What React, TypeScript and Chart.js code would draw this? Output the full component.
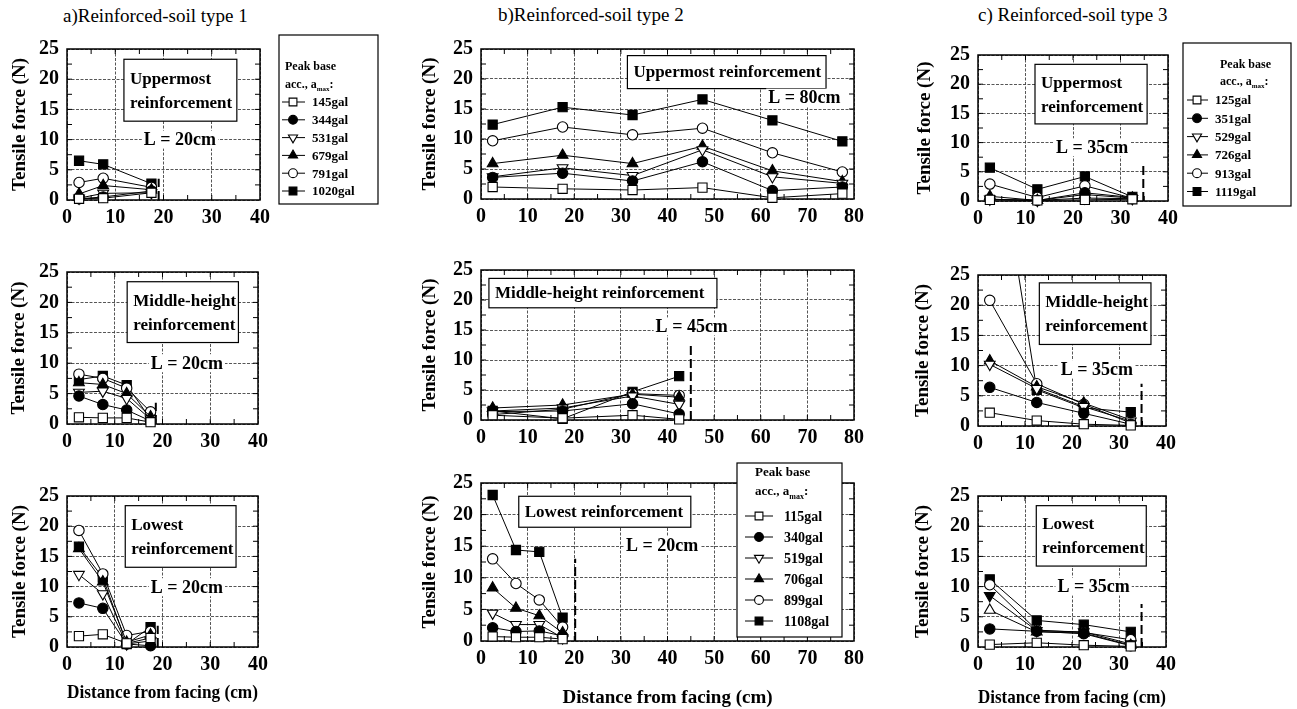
import React, { useEffect, useRef } from "react";
import { Chart, registerables } from "chart.js";

Chart.register(...registerables);

const FONT = '"Liberation Serif", "Times New Roman", Times, serif';

// ---------- measuring positions: distance from facing (cm) ----------
const xA3 = [2.5, 7.5, 17.5];
const xA4 = [2.5, 7.5, 12.5, 17.5];
const xBTop = [2.5, 17.5, 32.5, 47.5, 62.5, 77.5];
const xBMid = [2.5, 17.5, 32.5, 42.5];
const xBLow = [2.5, 7.5, 12.5, 17.5];
const xC = [2.5, 12.5, 22.5, 32.5];

// ---------- legend labels (peak base acceleration) ----------
const accA = ["145gal", "344gal", "531gal", "679gal", "791gal", "1020gal"];
const accB = ["115gal", "340gal", "519gal", "706gal", "899gal", "1108gal"];
const accC = ["125gal", "351gal", "529gal", "726gal", "913gal", "1119gal"];

// ---------- tensile force (N); rows follow the legend order ----------
const forceATop = [
  [0.2, 0.3, 1.2],
  [0.2, 0.5, 1.5],
  [0.3, 1.1, 1.2],
  [1.0, 2.4, 1.7],
  [2.9, 3.6, 2.1],
  [6.5, 5.9, 2.7],
];
const forceAMid = [
  [1.1, 1.0, 1.0, 0.3],
  [4.6, 3.2, 2.3, 0.5],
  [5.2, 5.4, 4.2, 0.8],
  [6.8, 6.5, 5.0, 1.2],
  [8.2, 7.5, 5.9, 2.0],
  [7.3, 7.9, 6.4, 0.8],
];
const forceALow = [
  [1.8, 2.1, 0.6, 1.5],
  [7.3, 6.4, 0.5, 0.2],
  [12.0, 8.8, 0.5, 1.0],
  [16.3, 10.8, 0.8, 2.0],
  [19.3, 12.1, 1.9, 2.6],
  [16.6, 11.5, 0.5, 3.3],
];
const forceBTop = [
  [2.0, 1.7, 1.5, 1.9, 0.2, 0.9],
  [3.6, 4.3, 3.0, 6.2, 1.4, 2.0],
  [3.7, 5.2, 3.9, 8.2, 3.7, 2.6],
  [5.9, 7.3, 5.9, 8.8, 4.7, 2.9],
  [9.7, 12.0, 10.7, 11.8, 7.7, 4.5],
  [12.4, 15.3, 14.0, 16.6, 13.1, 9.6],
];
const forceBMid = [
  [0.8, 0.3, 0.8, 0.1],
  [1.4, 1.5, 2.7, 1.0],
  [1.5, 2.0, 4.0, 2.6],
  [2.0, 2.5, 4.3, 3.8],
  [0.9, 1.8, 4.4, 4.1],
  [1.5, 0.2, 4.7, 7.3],
];
const forceBLow = [
  [0.7, 0.6, 0.6, 0.3],
  [2.1, 1.5, 1.6, 0.8],
  [4.4, 2.6, 2.6, 0.5],
  [8.4, 5.2, 4.0, 1.3],
  [13.0, 9.1, 6.5, 2.2],
  [23.1, 14.4, 14.1, 3.7],
];
const forceCTop = [
  [0.2, 0.1, 0.2, 0.3],
  [0.3, 0.1, 1.4, 0.6],
  [0.3, 0.1, 0.5, 0.4],
  [0.8, 0.1, 1.1, 0.5],
  [2.9, 0.6, 2.6, 0.5],
  [5.7, 2.0, 4.2, 0.7],
];
const forceCMid = [
  [2.2, 0.9, 0.3, 0.1],
  [6.4, 3.9, 2.1, 0.3],
  [10.2, 6.2, 3.2, 0.8],
  [10.8, 6.5, 3.8, 1.0],
  [20.8, 7.0, 3.6, 0.5],
  [55, 6.0, 3.0, 2.3],
];
const forceCLow = [
  [0.4, 0.7, 0.3, 0.1],
  [3.0, 2.6, 2.2, 0.2],
  [6.1, 2.5, 2.3, 0.3],
  [8.5, 2.7, 2.5, 0.5],
  [10.3, 2.8, 2.4, 1.2],
  [11.2, 4.4, 3.7, 2.5],
];

// ---------- marker styles per series (legend order) ----------
type MarkerStyle = { style: string; filled: boolean; rotation: number; radius: number };
const SERIES: MarkerStyle[] = [
  { style: "rect", filled: false, rotation: 0, radius: 6.5 },
  { style: "circle", filled: true, rotation: 0, radius: 5.2 },
  { style: "triangle", filled: false, rotation: 180, radius: 6.2 },
  { style: "triangle", filled: true, rotation: 0, radius: 6.2 },
  { style: "circle", filled: false, rotation: 0, radius: 5.2 },
  { style: "rect", filled: true, rotation: 0, radius: 6.5 },
];

type Box = { x1: number; x2: number; y1: number; y2: number; lines: string[] };
type LText = { x: number; y: number; text: string; align: "left" | "center" };
type LegendCfg = {
  l: number; t: number; r: number; b: number;
  titleX: number; titleY: number; accY: number;
  lineX1: number; lineX2: number; markX: number; textX: number;
  y0: number; dy: number; fs: number; tfs: number;
};
type PanelCfg = {
  id: string;
  plot: { left: number; top: number; width: number; height: number };
  xMax: number;
  xs: number[];
  ys: number[][];
  labels: string[];
  overrides?: Record<number, Partial<MarkerStyle>>;
  pt: number;
  pr: number;
  bottomRow: boolean;
  xTitleY?: number;
  yTitleX: number;
  box: Box;
  lText: LText;
  dashed: { x: number; y: number };
  legend?: LegendCfg;
};

const PANELS: PanelCfg[] = [
  {
    id: "aTop", plot: { left: 67, top: 41, width: 193, height: 159 }, xMax: 40,
    xs: xA3, ys: forceATop, labels: accA, pt: 12, pr: 122, bottomRow: false, yTitleX: 20,
    box: { x1: 11.8, x2: 35.2, y1: 23.3, y2: 13.05, lines: ["Uppermost", "reinforcement"] },
    lText: { x: 23.4, y: 10, text: "L = 20cm", align: "center" },
    dashed: { x: 19, y: 3.5 },
    legend: { l: 279, t: 35, r: 378, b: 204, titleX: 285, titleY: 67, accY: 85,
      lineX1: 282, lineX2: 305, markX: 293, textX: 312, y0: 102, dy: 17.8, fs: 13, tfs: 12 },
  },
  {
    id: "aMid", plot: { left: 67, top: 264, width: 193, height: 160 }, xMax: 40,
    xs: xA4, ys: forceAMid, labels: accA, pt: 12, pr: 14, bottomRow: false, yTitleX: 19,
    box: { x1: 12.6, x2: 35.9, y1: 23.4, y2: 13.4, lines: ["Middle-height", "reinforcement"] },
    lText: { x: 25.1, y: 10, text: "L = 20cm", align: "center" },
    dashed: { x: 18.6, y: 3.5 },
  },
  {
    id: "aLow", plot: { left: 67, top: 488, width: 193, height: 159 }, xMax: 40,
    xs: xA4, ys: forceALow, labels: accA, pt: 12, pr: 14, bottomRow: true, xTitleY: 693, yTitleX: 20,
    box: { x1: 12.2, x2: 35.4, y1: 23.4, y2: 13.2, lines: ["Lowest", "reinforcement"] },
    lText: { x: 25.1, y: 9.9, text: "L = 20cm", align: "center" },
    dashed: { x: 19, y: 3.5 },
  },
  {
    id: "bTop", plot: { left: 481, top: 41, width: 375, height: 158 }, xMax: 80,
    xs: xBTop, ys: forceBTop, labels: accB, pt: 12, pr: 14, bottomRow: false, yTitleX: 430,
    box: { x1: 31.4, x2: 74.0, y1: 23.9, y2: 18.4, lines: ["Uppermost reinforcement"] },
    lText: { x: 61.6, y: 16.9, text: "L = 80cm", align: "left" },
    dashed: { x: 80, y: 0 },
  },
  {
    id: "bMid", plot: { left: 481, top: 262, width: 375, height: 158 }, xMax: 80,
    xs: xBMid, ys: forceBMid, labels: accB, pt: 12, pr: 14, bottomRow: false, yTitleX: 430,
    box: { x1: 1.7, x2: 50.6, y1: 23.6, y2: 18.7, lines: ["Middle-height reinforcement"] },
    lText: { x: 45.2, y: 15.6, text: "L = 45cm", align: "center" },
    dashed: { x: 45, y: 13 },
  },
  {
    id: "bLow", plot: { left: 481, top: 483, width: 375, height: 158 }, xMax: 80,
    xs: xBLow, ys: forceBLow, labels: accB, pt: 25, pr: 14, bottomRow: true, xTitleY: 698, yTitleX: 430,
    box: { x1: 8.1, x2: 45.0, y1: 22.9, y2: 18.0, lines: ["Lowest reinforcement"] },
    lText: { x: 31.1, y: 15.2, text: "L = 20cm", align: "left" },
    dashed: { x: 20.2, y: 13 },
    legend: { l: 737, t: 463, r: 842, b: 637, titleX: 755, titleY: 473, accY: 492,
      lineX1: 745, lineX2: 773, markX: 759, textX: 784, y0: 516, dy: 21, fs: 14, tfs: 13 },
  },
  {
    id: "cTop", plot: { left: 978, top: 47, width: 190, height: 154 }, xMax: 40,
    xs: xC, ys: forceCTop, labels: accC, pt: 12, pr: 125, bottomRow: false, yTitleX: 925,
    box: { x1: 12.0, x2: 35.6, y1: 23.4, y2: 13.2, lines: ["Uppermost", "reinforcement"] },
    lText: { x: 24.0, y: 9.2, text: "L = 35cm", align: "center" },
    dashed: { x: 34.8, y: 6.4 },
    legend: { l: 1183, t: 43, r: 1291, b: 206, titleX: 1220, titleY: 65, accY: 82,
      lineX1: 1187, lineX2: 1208, markX: 1197, textX: 1215, y0: 100, dy: 18.3, fs: 13, tfs: 12 },
  },
  {
    id: "cMid", plot: { left: 978, top: 267, width: 190, height: 159 }, xMax: 40,
    xs: xC, ys: forceCMid, labels: accC, pt: 12, pr: 14, bottomRow: false, yTitleX: 923,
    box: { x1: 13.05, x2: 36.8, y1: 23.7, y2: 13.5, lines: ["Middle-height", "reinforcement"] },
    lText: { x: 25.3, y: 9.4, text: "L = 35cm", align: "center" },
    dashed: { x: 34.8, y: 7 },
  },
  {
    id: "cLow", plot: { left: 978, top: 488, width: 190, height: 159 }, xMax: 40,
    xs: xC, ys: forceCLow, labels: accC, pt: 12, pr: 14, bottomRow: true, xTitleY: 698, yTitleX: 923,
    overrides: { 2: { rotation: 0 }, 3: { rotation: 180 } },
    box: { x1: 12.4, x2: 35.8, y1: 23.4, y2: 13.4, lines: ["Lowest", "reinforcement"] },
    lText: { x: 24.6, y: 10, text: "L = 35cm", align: "center" },
    dashed: { x: 34.8, y: 7.1 },
  },
];

const TITLES = [
  { text: "a)Reinforced-soil type 1", x: 63, y: 6 },
  { text: "b)Reinforced-soil type 2", x: 498, y: 5 },
  { text: "c) Reinforced-soil type 3", x: 978, y: 5 },
];

const YW = 66;
const TITLE_HALF = 11.4;

function drawMarker(ctx: CanvasRenderingContext2D, m: MarkerStyle, x: number, y: number, r: number) {
  ctx.beginPath();
  if (m.style === "circle") {
    ctx.arc(x, y, r, 0, Math.PI * 2);
  } else if (m.style === "rect") {
    const s = r * Math.SQRT1_2;
    ctx.rect(x - s, y - s, 2 * s, 2 * s);
  } else {
    let rad = (m.rotation * Math.PI) / 180;
    ctx.moveTo(x + Math.sin(rad) * r, y - Math.cos(rad) * r);
    rad += (2 * Math.PI) / 3;
    ctx.lineTo(x + Math.sin(rad) * r, y - Math.cos(rad) * r);
    rad += (2 * Math.PI) / 3;
    ctx.lineTo(x + Math.sin(rad) * r, y - Math.cos(rad) * r);
    ctx.closePath();
  }
  ctx.fillStyle = m.filled ? "#000" : "#fff";
  ctx.fill();
  ctx.strokeStyle = "#000";
  ctx.lineWidth = 1.1;
  ctx.stroke();
}

function makeDecor(p: PanelCfg, originX: number, originY: number) {
  return {
    id: "decor_" + p.id,
    beforeDatasetsDraw(chart: any) {
      const { ctx, chartArea: a, scales } = chart;
      const xs = scales.x;
      const ys = scales.y;
      ctx.save();
      // frame
      ctx.strokeStyle = "#000";
      ctx.lineWidth = 1.5;
      ctx.strokeRect(a.left, a.top, a.right - a.left, a.bottom - a.top);
      // inward ticks on all four sides
      ctx.lineWidth = 1;
      ctx.beginPath();
      for (let v = 5; v < p.xMax; v += 5) {
        const px = xs.getPixelForValue(v);
        ctx.moveTo(px, a.bottom);
        ctx.lineTo(px, a.bottom - 5);
        ctx.moveTo(px, a.top);
        ctx.lineTo(px, a.top + 5);
      }
      for (let v = 2.5; v < 25; v += 2.5) {
        const py = ys.getPixelForValue(v);
        ctx.moveTo(a.left, py);
        ctx.lineTo(a.left + 5, py);
        ctx.moveTo(a.right, py);
        ctx.lineTo(a.right - 5, py);
      }
      ctx.stroke();
      // dashed reinforcement-end line
      if (p.dashed.y > 0) {
        ctx.save();
        ctx.setLineDash([9, 4]);
        ctx.lineWidth = 2;
        ctx.beginPath();
        const dx = xs.getPixelForValue(p.dashed.x);
        ctx.moveTo(dx, ys.getPixelForValue(0));
        ctx.lineTo(dx, ys.getPixelForValue(p.dashed.y));
        ctx.stroke();
        ctx.restore();
      }
      // annotation box
      const b = p.box;
      const bx1 = xs.getPixelForValue(b.x1);
      const bx2 = xs.getPixelForValue(b.x2);
      const by1 = ys.getPixelForValue(b.y1);
      const by2 = ys.getPixelForValue(b.y2);
      ctx.fillStyle = "#fff";
      ctx.fillRect(bx1, by1, bx2 - bx1, by2 - by1);
      ctx.strokeStyle = "#000";
      ctx.lineWidth = 1.2;
      ctx.strokeRect(bx1, by1, bx2 - bx1, by2 - by1);
      ctx.fillStyle = "#000";
      ctx.font = `bold 17px ${FONT}`;
      ctx.textBaseline = "middle";
      ctx.textAlign = "left";
      const cy = (by1 + by2) / 2;
      const gap = 24;
      b.lines.forEach((ln, i) => {
        ctx.fillText(ln, bx1 + 6, cy + (i - (b.lines.length - 1) / 2) * gap + 1);
      });
      // L = ... label
      const t = p.lText;
      ctx.font = `bold 18px ${FONT}`;
      const w = ctx.measureText(t.text).width;
      const tx = xs.getPixelForValue(t.x);
      const ty = ys.getPixelForValue(t.y);
      const left = t.align === "center" ? tx - w / 2 : tx;
      ctx.fillStyle = "#fff";
      ctx.fillRect(left - 2, ty - 9, w + 4, 18);
      ctx.fillStyle = "#000";
      ctx.fillText(t.text, left, ty + 1);
      ctx.restore();
    },
    afterDraw(chart: any) {
      const lg = p.legend;
      if (!lg) return;
      const { ctx } = chart;
      const ox = originX;
      const oy = originY;
      ctx.save();
      ctx.fillStyle = "#fff";
      ctx.fillRect(lg.l - ox, lg.t - oy, lg.r - lg.l, lg.b - lg.t);
      ctx.strokeStyle = "#000";
      ctx.lineWidth = 1.2;
      ctx.strokeRect(lg.l - ox, lg.t - oy, lg.r - lg.l, lg.b - lg.t);
      ctx.fillStyle = "#000";
      ctx.textBaseline = "middle";
      ctx.textAlign = "left";
      ctx.font = `bold ${lg.tfs}px ${FONT}`;
      ctx.fillText("Peak base", lg.titleX - ox, lg.titleY - oy);
      const w1 = ctx.measureText("acc., a").width;
      ctx.fillText("acc., a", lg.titleX - ox, lg.accY - oy);
      ctx.font = `bold ${Math.round(lg.tfs * 0.6)}px ${FONT}`;
      const w2 = ctx.measureText("max").width;
      ctx.fillText("max", lg.titleX - ox + w1, lg.accY - oy + lg.tfs * 0.35);
      ctx.font = `bold ${lg.tfs}px ${FONT}`;
      ctx.fillText(":", lg.titleX - ox + w1 + w2, lg.accY - oy);
      p.labels.forEach((lab, i) => {
        const y = lg.y0 + i * lg.dy - oy;
        ctx.strokeStyle = "#000";
        ctx.lineWidth = 1;
        ctx.beginPath();
        ctx.moveTo(lg.lineX1 - ox, y);
        ctx.lineTo(lg.lineX2 - ox, y);
        ctx.stroke();
        const m = { ...SERIES[i] };
        drawMarker(ctx, m, lg.markX - ox, y, m.radius * 0.85);
        ctx.fillStyle = "#000";
        ctx.font = `bold ${lg.fs}px ${FONT}`;
        ctx.fillText(lab, lg.textX - ox, y + 1);
      });
      ctx.restore();
    },
  };
}

function Panel({ p }: { p: PanelCfg }) {
  const ref = useRef<HTMLCanvasElement | null>(null);
  const left = p.plot.left - YW;
  const top = p.plot.top - p.pt;
  const plotBottom = p.plot.top + p.plot.height;
  const xh = p.bottomRow ? Math.round((p.xTitleY as number) - plotBottom + TITLE_HALF + 2) : 32;
  const W = YW + p.plot.width + p.pr;
  const H = p.pt + p.plot.height + xh;

  useEffect(() => {
    if (!ref.current) return;
    const tickFont = { family: FONT, size: 20, weight: "bold" as const };
    const titleFont = { family: FONT, size: 19, weight: "bold" as const };
    const gridCfg = { color: "#444", lineWidth: 0.9, drawTicks: false };
    const borderCfg = { display: false, dash: [3, 1.5] };
    const datasets = p.ys.map((vals, i) => {
      const st = { ...SERIES[i], ...(p.overrides && p.overrides[i] ? p.overrides[i] : {}) };
      return {
        label: p.labels[i],
        data: p.xs.map((xv, j) => ({ x: xv, y: vals[j] })),
        borderColor: "#000",
        borderWidth: 1,
        pointStyle: st.style,
        pointRotation: st.rotation,
        pointRadius: st.radius,
        pointBackgroundColor: st.filled ? "#000" : "#fff",
        pointBorderColor: "#000",
        pointBorderWidth: 1.1,
        fill: false,
        tension: 0,
        clip: { left: 12, right: 12, top: 0, bottom: 12 },
      };
    });
    const chart = new Chart(ref.current, {
      type: "line",
      data: { datasets } as any,
      options: {
        responsive: false,
        animation: false,
        events: [],
        layout: { padding: { left: 0, top: p.pt, right: p.pr, bottom: 0 } },
        plugins: { legend: { display: false }, tooltip: { enabled: false } },
        scales: {
          x: {
            type: "linear",
            min: 0,
            max: p.xMax,
            ticks: { stepSize: 10, autoSkip: false, maxRotation: 0, padding: 6, color: "#000", font: tickFont },
            grid: gridCfg,
            border: borderCfg,
            title: {
              display: p.bottomRow,
              text: "Distance from facing (cm)",
              color: "#000",
              font: titleFont,
              padding: { top: 0, bottom: 2 },
            },
            afterFit: (s: any) => {
              s.height = xh;
            },
          },
          y: {
            min: 0,
            max: 25,
            ticks: { stepSize: 5, padding: 8, color: "#000", font: tickFont },
            grid: gridCfg,
            border: borderCfg,
            title: {
              display: true,
              text: "Tensile force (N)",
              color: "#000",
              font: titleFont,
              padding: { top: p.yTitleX - left - TITLE_HALF, bottom: 0 },
            },
            afterFit: (s: any) => {
              s.width = YW;
            },
          },
        },
      } as any,
      plugins: [makeDecor(p, left, top)],
    });
    return () => chart.destroy();
  }, []);

  return (
    <canvas
      ref={ref}
      width={W}
      height={H}
      style={{ position: "absolute", left, top, width: W, height: H }}
    />
  );
}

export default function App() {
  return (
    <div
      style={{
        position: "fixed",
        left: 0,
        top: 0,
        width: 1297,
        height: 709,
        background: "#fff",
        overflow: "hidden",
      }}
    >
      {TITLES.map((t) => (
        <div
          key={t.text}
          style={{
            position: "absolute",
            left: t.x,
            top: t.y,
            fontFamily: FONT,
            fontSize: 19,
            lineHeight: "20px",
            whiteSpace: "nowrap",
            color: "#000",
          }}
        >
          {t.text}
        </div>
      ))}
      {PANELS.map((p) => (
        <Panel key={p.id} p={p} />
      ))}
    </div>
  );
}
